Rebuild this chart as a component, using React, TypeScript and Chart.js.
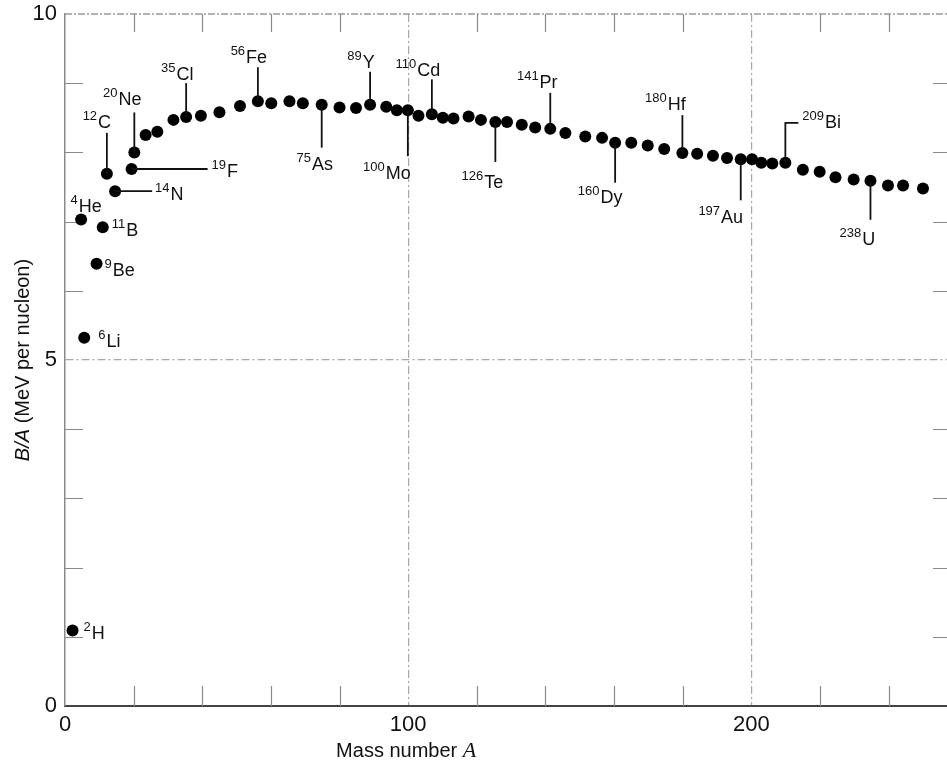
import React, { useEffect, useRef } from 'react';
import { Chart, registerables } from 'chart.js';

Chart.register(...registerables);

// ---- data ----
const massNumber = [
  2.2, 4.7, 5.6, 9.2, 11, 12.2, 14.6, 19.4, 20.2, 23.5, 26.9, 31.6, 35.3, 39.6, 45, 51, 56.2, 60.1, 65.4, 69.3,
  74.8, 80, 84.8, 88.9, 93.6, 96.7, 99.9, 103, 106.9, 110.1, 113.2, 117.6, 121.2, 125.4, 128.8, 133.1, 137, 141.4,
  145.8, 151.6, 156.5, 160.3, 165, 169.8, 174.6, 179.9, 184.2, 188.8, 192.9, 196.9, 200.2, 202.9, 206.1, 209.9,
  215, 219.9, 224.5, 229.8, 234.7, 239.8, 244.2, 250,
];
const bindingPerNucleon = [
  1.09, 7.03, 5.32, 6.39, 6.92, 7.69, 7.44, 7.76, 8.0, 8.25, 8.3, 8.47, 8.51, 8.53, 8.58, 8.67, 8.74, 8.71, 8.74, 8.71,
  8.69, 8.65, 8.64, 8.69, 8.66, 8.61, 8.61, 8.53, 8.55, 8.5, 8.49, 8.52, 8.47, 8.44, 8.44, 8.4, 8.36, 8.34,
  8.28, 8.23, 8.21, 8.14, 8.14, 8.1, 8.05, 7.99, 7.98, 7.95, 7.92, 7.9, 7.9, 7.85, 7.84, 7.85,
  7.75, 7.72, 7.64, 7.61, 7.59, 7.52, 7.52, 7.48,
];
const xTickValues = [0, 100, 200];
const yTickValues = [0, 5, 10];
const xGridValues = [100, 200];
const yGridValues = [5];
const xMinorTicks = [20, 40, 60, 80, 120, 140, 160, 180, 220, 240];
const yMinorTicks = [1, 2, 3, 4, 6, 7, 8, 9];
const xRange = [0, 257];
const yRange = [0, 10];

// nuclide labels: point index, mass superscript, symbol
const labelPoint = [0, 1, 2, 3, 4, 5, 6, 7, 8, 12, 16, 20, 23, 26, 28, 33, 37, 41, 45, 49, 53, 58];
const labelMass = ['2', '4', '6', '9', '11', '12', '14', '19', '20', '35', '56', '75', '89', '100', '110', '126', '141', '160', '180', '197', '209', '238'];
const labelSymbol = ['H', 'He', 'Li', 'Be', 'B', 'C', 'N', 'F', 'Ne', 'Cl', 'Fe', 'As', 'Y', 'Mo', 'Cd', 'Te', 'Pr', 'Dy', 'Hf', 'Au', 'Bi', 'U'];

// leader-line styling (direction, length px, text offset px, alignment)
type Leader = { dir: string; len: number; hook: number; tx: number; ty: number; align: string };
const leaderStyle: Leader[] = [
  { dir: 'none', len: 0, hook: 0, tx: 11, ty: 8, align: 'left' },
  { dir: 'none', len: 0, hook: 0, tx: 5, ty: -8, align: 'center' },
  { dir: 'none', len: 0, hook: 0, tx: 14, ty: 9, align: 'left' },
  { dir: 'none', len: 0, hook: 0, tx: 8, ty: 12, align: 'left' },
  { dir: 'none', len: 0, hook: 0, tx: 9, ty: 9, align: 'left' },
  { dir: 'up', len: 41, hook: 0, tx: -10, ty: -5, align: 'center' },
  { dir: 'right', len: 37, hook: 0, tx: 3, ty: 9, align: 'left' },
  { dir: 'right', len: 76, hook: 0, tx: 4, ty: 8, align: 'left' },
  { dir: 'up', len: 40, hook: 0, tx: -12, ty: -7, align: 'center' },
  { dir: 'up', len: 34, hook: 0, tx: -9, ty: -3, align: 'center' },
  { dir: 'up', len: 34, hook: 0, tx: -9, ty: -4, align: 'center' },
  { dir: 'down', len: 43, hook: 0, tx: -7, ty: 22, align: 'center' },
  { dir: 'up', len: 33, hook: 0, tx: -9, ty: -4, align: 'center' },
  { dir: 'down', len: 46, hook: 0, tx: -21, ty: 23, align: 'center' },
  { dir: 'up', len: 35, hook: 0, tx: -14, ty: -3, align: 'center' },
  { dir: 'down', len: 40, hook: 0, tx: -13, ty: 26, align: 'center' },
  { dir: 'up', len: 36, hook: 0, tx: -13, ty: -5, align: 'center' },
  { dir: 'down', len: 40, hook: 0, tx: -15, ty: 20, align: 'center' },
  { dir: 'up', len: 38, hook: 0, tx: -17, ty: -5, align: 'center' },
  { dir: 'down', len: 41, hook: 0, tx: -20, ty: 23, align: 'center' },
  { dir: 'upright', len: 40, hook: 13, tx: 4, ty: 5, align: 'left' },
  { dir: 'down', len: 39, hook: 0, tx: -13, ty: 25, align: 'center' },
];

const SANS = '"Liberation Sans", Arial, Helvetica, sans-serif';
const MAIN_FONT = `18px ${SANS}`;
const SUP_FONT = `13px ${SANS}`;

const decorPlugin = {
  id: 'decor',
  beforeDatasetsDraw(chart: any) {
    const { ctx, chartArea: a, scales } = chart;
    const xs = scales.x;
    const ys = scales.y;
    ctx.save();
    // top border
    ctx.strokeStyle = '#9a9a9a';
    ctx.lineWidth = 1.5;
    ctx.setLineDash([7, 2, 2, 2]);
    ctx.beginPath();
    ctx.moveTo(a.left, a.top);
    ctx.lineTo(a.right, a.top);
    ctx.stroke();
    ctx.setLineDash([]);
    // inward minor ticks
    ctx.strokeStyle = '#8a8a8a';
    ctx.lineWidth = 1.2;
    ctx.beginPath();
    for (const v of xMinorTicks) {
      const px = Math.round(xs.getPixelForValue(v)) + 0.5;
      ctx.moveTo(px, a.bottom);
      ctx.lineTo(px, a.bottom - 20);
      ctx.moveTo(px, a.top);
      ctx.lineTo(px, a.top + 18);
    }
    for (const v of yMinorTicks) {
      const py = Math.round(ys.getPixelForValue(v)) + 0.5;
      ctx.moveTo(a.left, py);
      ctx.lineTo(a.left + 18, py);
      ctx.moveTo(a.right - 14, py);
      ctx.lineTo(a.right, py);
    }
    ctx.stroke();
    ctx.restore();
  },
  afterDatasetsDraw(chart: any) {
    const { ctx } = chart;
    const meta = chart.getDatasetMeta(0);
    ctx.save();
    ctx.strokeStyle = '#111';
    ctx.fillStyle = '#111';
    ctx.lineWidth = 1.8;
    labelPoint.forEach((pi, i) => {
      const el = meta.data[pi];
      if (!el) return;
      const s = leaderStyle[i];
      const x0 = el.x;
      const y0 = el.y;
      let ex = x0;
      let ey = y0;
      ctx.beginPath();
      if (s.dir === 'up') {
        ey = y0 - s.len;
        ctx.moveTo(x0, y0);
        ctx.lineTo(ex, ey);
      } else if (s.dir === 'down') {
        ey = y0 + s.len;
        ctx.moveTo(x0, y0);
        ctx.lineTo(ex, ey);
      } else if (s.dir === 'right') {
        ex = x0 + s.len;
        ctx.moveTo(x0, y0);
        ctx.lineTo(ex, ey);
      } else if (s.dir === 'upright') {
        ey = y0 - s.len;
        ex = x0 + s.hook;
        ctx.moveTo(x0, y0);
        ctx.lineTo(x0, ey);
        ctx.lineTo(ex, ey);
      }
      if (s.dir !== 'none') ctx.stroke();
      // text
      ctx.font = SUP_FONT;
      const wSup = ctx.measureText(labelMass[i]).width;
      ctx.font = MAIN_FONT;
      const wMain = ctx.measureText(labelSymbol[i]).width;
      const gap = 1;
      const total = wSup + gap + wMain;
      let left = ex + s.tx;
      if (s.align === 'center') left = ex + s.tx - total / 2;
      const base = ey + s.ty;
      ctx.textAlign = 'left';
      ctx.textBaseline = 'alphabetic';
      ctx.font = SUP_FONT;
      ctx.fillText(labelMass[i], left, base - 8);
      ctx.font = MAIN_FONT;
      ctx.fillText(labelSymbol[i], left + wSup + gap, base);
    });
    ctx.restore();
  },
  afterDraw(chart: any) {
    const { ctx, chartArea: a, scales } = chart;
    ctx.save();
    ctx.fillStyle = '#111';
    ctx.textBaseline = 'alphabetic';
    // x title: "Mass number A"
    const t1 = 'Mass number ';
    ctx.font = `20px ${SANS}`;
    const w1 = ctx.measureText(t1).width;
    ctx.font = 'italic 22px "Liberation Serif", "Times New Roman", serif';
    const w2 = ctx.measureText('A').width;
    const cx = scales.x.getPixelForValue(100) - 2;
    const left = cx - (w1 + w2) / 2;
    const base = a.bottom + 51;
    ctx.font = `20px ${SANS}`;
    ctx.fillText(t1, left, base);
    ctx.font = 'italic 22px "Liberation Serif", "Times New Roman", serif';
    ctx.fillText('A', left + w1, base);
    // y title: "B/A (MeV per nucleon)"
    ctx.translate(29, (a.top + a.bottom) / 2);
    ctx.rotate(-Math.PI / 2);
    const y1 = 'B/A';
    const y2 = ' (MeV per nucleon)';
    ctx.font = `italic 20px ${SANS}`;
    const wy1 = ctx.measureText(y1).width;
    ctx.font = `20px ${SANS}`;
    const wy2 = ctx.measureText(y2).width;
    const yl = -(wy1 + wy2) / 2;
    ctx.font = `italic 20px ${SANS}`;
    ctx.fillText(y1, yl, 0);
    ctx.font = `20px ${SANS}`;
    ctx.fillText(y2, yl + wy1, 0);
    ctx.restore();
  },
};

export default function App() {
  const ref = useRef<HTMLCanvasElement | null>(null);
  useEffect(() => {
    if (!ref.current) return;
    const points = massNumber.map((x, i) => ({ x, y: bindingPerNucleon[i] }));
    const gridColor = (vals: number[]) => (c: any) =>
      vals.includes(c.tick && c.tick.value) ? '#a8a8a8' : 'rgba(0,0,0,0)';
    const chart = new Chart(ref.current, {
      type: 'scatter',
      data: {
        datasets: [
          {
            data: points,
            backgroundColor: '#000',
            borderWidth: 0,
            pointRadius: 6,
            pointHoverRadius: 6,
          },
        ],
      },
      options: {
        animation: false,
        responsive: false,
        events: [],
        layout: { autoPadding: false, padding: { top: 14, right: 0, bottom: 0, left: 0 } },
        plugins: { legend: { display: false }, tooltip: { enabled: false }, title: { display: false } },
        scales: {
          x: {
            type: 'linear',
            min: xRange[0],
            max: xRange[1],
            afterBuildTicks: (s: any) => {
              s.ticks = xTickValues.map((v) => ({ value: v }));
            },
            afterFit: (s: any) => {
              s.height = 58;
              s.paddingLeft = 0;
              s.paddingRight = 0;
            },
            ticks: {
              font: { family: SANS, size: 22 },
              color: '#111',
              padding: 6,
              maxRotation: 0,
              autoSkip: false,
            },
            grid: {
              color: gridColor(xGridValues),
              lineWidth: 1.2,
              drawTicks: false,
            },
            border: { display: true, color: '#444', width: 2, dash: [8, 3, 2, 3] },
          },
          y: {
            type: 'linear',
            min: yRange[0],
            max: yRange[1],
            afterBuildTicks: (s: any) => {
              s.ticks = yTickValues.map((v) => ({ value: v }));
            },
            afterFit: (s: any) => {
              s.width = 65;
              s.paddingTop = 0;
              s.paddingBottom = 0;
            },
            ticks: {
              font: { family: SANS, size: 22 },
              color: '#111',
              padding: 8,
            },
            grid: {
              color: gridColor(yGridValues),
              lineWidth: 1.2,
              drawTicks: false,
            },
            border: { display: true, color: '#8a8a8a', width: 1.5, dash: [8, 3, 2, 3] },
          },
        },
      } as any,
      plugins: [decorPlugin],
    });
    return () => chart.destroy();
  }, []);
  return (
    <div style={{ position: 'absolute', left: 0, top: 0, width: 947, height: 764, background: '#fff' }}>
      <canvas ref={ref} width={947} height={764} style={{ display: 'block' }} />
    </div>
  );
}
